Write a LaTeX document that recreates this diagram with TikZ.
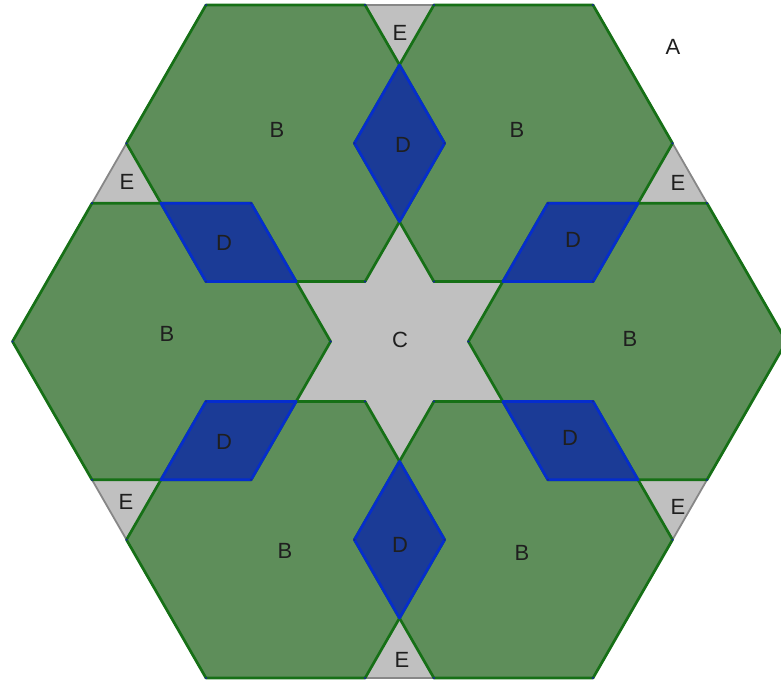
\documentclass[tikz,border=0pt]{standalone}
\usepackage{fontspec}
\setmainfont{Liberation Sans}
\usetikzlibrary{calc}
\definecolor{bfill}{RGB}{94,142,90}
\definecolor{bline}{RGB}{22,112,22}
\definecolor{dfill}{RGB}{27,59,150}
\definecolor{dline}{RGB}{5,45,205}
\definecolor{gfill}{RGB}{192,192,192}
\definecolor{gline}{RGB}{135,135,135}
\definecolor{dotc}{RGB}{20,40,150}
\begin{document}
\begin{tikzpicture}[x=1pt,y=1pt,
  lab/.style={font=\fontsize{22}{22}\selectfont, text=black!88, inner sep=0pt},
  bhex/.style={fill=bfill},
  bedge/.style={draw=bline, line width=2.7pt, line join=round},
  drh/.style={fill=dfill, draw=dline, line width=2.7pt, line join=round},
  outer/.style={fill=gfill, draw=gline, line width=1.8pt, line join=round}]
\useasboundingbox (0,0) rectangle (781,681);
\begin{scope}[shift={(399.5pt,339.5pt)}, x=387pt, y=388.6pt]
  \def\dd{0.589}
  \def\rr{0.411}
  \pgfmathsetmacro\dout{\rr*sqrt(3)}
  \pgfmathsetmacro\din{(\dd-\rr)*sqrt(3)}
  \pgfmathsetmacro\dmid{\dd*sqrt(3)/2}
  \pgfmathsetmacro\dhw{\rr-\dd/2}
  % outer hexagon A
  \path[outer] (0:1) -- (60:1) -- (120:1) -- (180:1) -- (240:1) -- (300:1) -- cycle;
  % six hexagons B (fills)
  \foreach \k in {0,...,5}{
    \begin{scope}[shift={(60*\k:\dd)}]
      \path[bhex] (0:\rr) -- (60:\rr) -- (120:\rr) -- (180:\rr) -- (240:\rr) -- (300:\rr) -- cycle;
    \end{scope}
  }
  % borders of B
  \foreach \k in {0,...,5}{
    \begin{scope}[shift={(60*\k:\dd)}]
      \path[bedge] (0:\rr) -- (60:\rr) -- (120:\rr) -- (180:\rr) -- (240:\rr) -- (300:\rr) -- cycle;
    \end{scope}
  }
  % rhombi D (overlaps)
  \foreach \t in {30,90,150,210,270,330}{
    \path[drh] (\t:\dout) -- ($(\t:\dmid)+(\t+90:\dhw)$) -- (\t:\din)
      -- ($(\t:\dmid)+(\t-90:\dhw)$) -- cycle;
  }
  % vertex points
  \foreach \k in {0,...,5}{
    \begin{scope}[shift={(60*\k:\dd)}]
      \foreach \j in {0,...,5}{
        \fill[dotc] (60*\j:\rr) circle (1.2pt);
      }
    \end{scope}
  }
\end{scope}
% labels
\node[lab] (A) at (673,634) {A};
\node[lab] (B1) at (277,551) {B};
\node[lab] (B2) at (517,551) {B};
\node[lab] (B3) at (167,347) {B};
\node[lab] (B4) at (630,342) {B};
\node[lab] (B5) at (285,130) {B};
\node[lab] (B6) at (522,128) {B};
\node[lab] (C) at (400,341) {C};
\node[lab] (D1) at (403,536) {D};
\node[lab] (D2) at (224,438) {D};
\node[lab] (D3) at (573,441) {D};
\node[lab] (D4) at (224,239) {D};
\node[lab] (D5) at (570,243) {D};
\node[lab] (D6) at (400,136) {D};
\node[lab] (E1) at (400,648) {E};
\node[lab] (E2) at (127,499) {E};
\node[lab] (E3) at (678,498) {E};
\node[lab] (E4) at (126,179) {E};
\node[lab] (E5) at (678,174) {E};
\node[lab] (E6) at (402,21) {E};
\end{tikzpicture}
\end{document}
